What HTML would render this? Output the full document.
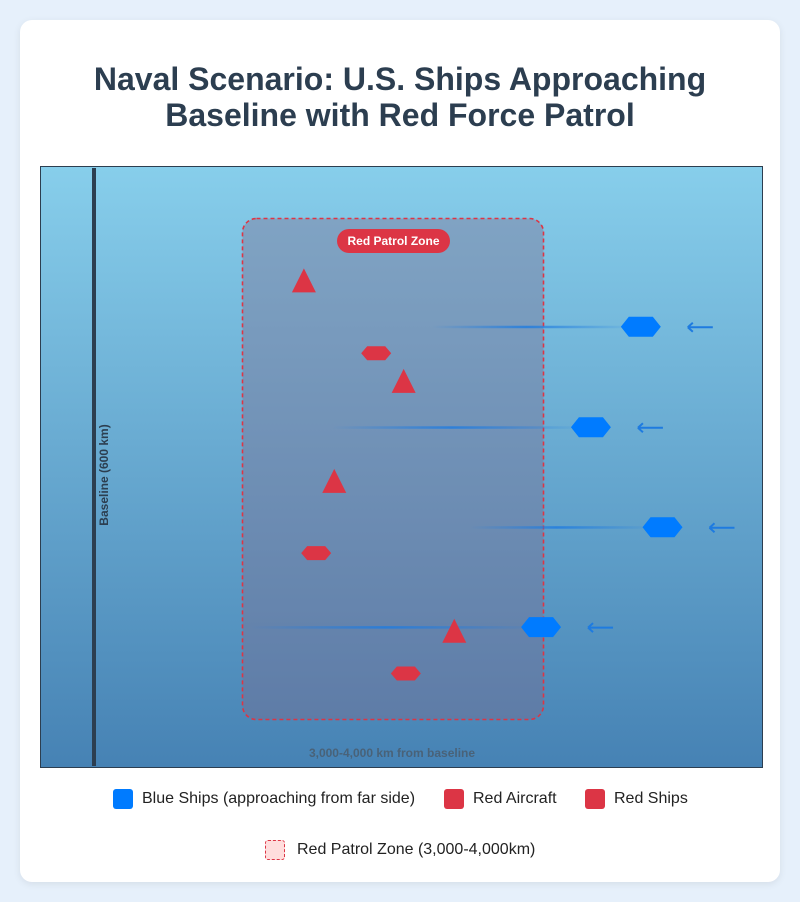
<!DOCTYPE html>
<html><head><meta charset="utf-8">
<style>
body{margin:0;background:#e6f0fb;width:800px;height:902px;font-family:"Liberation Sans",Arial,sans-serif;}
.card{position:absolute;left:20px;top:20px;width:760px;height:862px;background:#fff;border-radius:12px;box-shadow:0 2px 8px rgba(0,0,0,.08);}
h1{position:absolute;left:0;width:800px;margin:0;top:61px;text-align:center;font-size:32px;line-height:36px;font-weight:bold;color:#2c3e50;}
svg{position:absolute;left:0;top:0;}
.leg{position:absolute;font-size:16px;color:#222;display:flex;align-items:center;}
.sw{width:20px;height:20px;border-radius:3px;margin-right:9px;}
</style></head><body>
<div class="card"></div>
<h1>Naval Scenario: U.S. Ships Approaching<br>Baseline with Red Force Patrol</h1>
<svg id="chart" width="800" height="902">
<defs>
<linearGradient id="sea" x1="0" y1="0" x2="0" y2="1"><stop offset="0" stop-color="#87ceeb"/><stop offset="1" stop-color="#4682b4"/></linearGradient>
<linearGradient id="trail" x1="0" y1="0" x2="1" y2="0"><stop offset="0" stop-color="#1e7be0" stop-opacity="0"/><stop offset="0.5" stop-color="#1e7be0" stop-opacity="0.8"/><stop offset="1" stop-color="#1e7be0" stop-opacity="0.1"/></linearGradient>
</defs>
<rect x="40.5" y="166.5" width="722" height="601" fill="url(#sea)" stroke="#2c3e50" stroke-width="1"/>
<rect x="92" y="168" width="4" height="598" fill="#2c3e50"/>
<text transform="translate(108,475) rotate(-90)" text-anchor="middle" font-size="12" font-weight="bold" fill="#2c3e50">Baseline (600 km)</text>
<rect x="242.5" y="218.5" width="301" height="501" rx="14" fill="rgba(125,105,140,0.38)" stroke="#dc3545" stroke-width="1.6" stroke-dasharray="4,3"/>
<rect x="337" y="229" width="113" height="24" rx="12" fill="#dc3545"/>
<text x="393.5" y="245" text-anchor="middle" font-size="12" font-weight="bold" fill="#fff">Red Patrol Zone</text>
<text x="392" y="757" text-anchor="middle" font-size="12" font-weight="bold" fill="#4a5a6a" opacity="0.8">3,000-4,000 km from baseline</text>
<g id="marks"></g>
</svg>
<div class="leg" style="left:113px;top:789px"><div class="sw" style="background:#007bff"></div>Blue Ships (approaching from far side)</div>
<div class="leg" style="left:444px;top:789px"><div class="sw" style="background:#dc3545"></div>Red Aircraft</div>
<div class="leg" style="left:585px;top:789px"><div class="sw" style="background:#dc3545"></div>Red Ships</div>
<div class="leg" style="left:265px;top:840px"><div class="sw" style="background:#fdd;border:1.5px dashed #dc3545;box-sizing:border-box;margin-right:12px"></div>Red Patrol Zone (3,000-4,000km)</div>
<script>
const blueShipX=[83.1,76.2,86.1,69.3];
const blueShipY=[26.7,43.4,60.0,76.6];
const blueTrailStart=[54.2,40.4,59.5,29.0];
const aircraftX=[36.5,50.3,40.7,57.3];
const aircraftY=[19.0,35.7,52.3,77.2];
const redShipX=[46.5,38.2,50.6];
const redShipY=[31.1,64.3,84.3];
const xs=v=>40+v*7.23;
const ys=v=>166+v*6.02;
const g=document.getElementById('marks');
const NS='http://www.w3.org/2000/svg';
function hex(cx,cy,w,h){const q=w*0.2;return `${cx-w/2},${cy} ${cx-w/2+q},${cy-h/2} ${cx+w/2-q},${cy-h/2} ${cx+w/2},${cy} ${cx+w/2-q},${cy+h/2} ${cx-w/2+q},${cy+h/2}`;}
blueShipX.forEach((v,i)=>{
  const x=xs(v),y=ys(blueShipY[i]),x0=xs(blueTrailStart[i]);
  const t=document.createElementNS(NS,'rect');
  t.setAttribute('x',x0);t.setAttribute('y',y-1);t.setAttribute('width',x-20-x0);t.setAttribute('height',2.5);t.setAttribute('fill','url(#trail)');
  
  
  g.appendChild(t);
  const p=document.createElementNS(NS,'polygon');
  p.setAttribute('points',hex(x,y,40,20));p.setAttribute('fill','#007bff');
  
  
  g.appendChild(p);
  const a=document.createElementNS(NS,'path');
  a.setAttribute('d',`M${x+47},${y+0.5} H${x+72} M${x+47},${y+0.5} l5,-4.5 M${x+47},${y+0.5} l5,4.5`);
  a.setAttribute('stroke','#1e7be0');a.setAttribute('stroke-width','2');a.setAttribute('fill','none');
  
  
  g.appendChild(a);
});
aircraftX.forEach((v,i)=>{
  const x=xs(v),y=ys(aircraftY[i]);
  const p=document.createElementNS(NS,'polygon');
  p.setAttribute('points',`${x},${y-12} ${x+12},${y+12} ${x-12},${y+12}`);p.setAttribute('fill','#dc3545');
  
  
  g.appendChild(p);
});
redShipX.forEach((v,i)=>{
  const x=xs(v),y=ys(redShipY[i]);
  const p=document.createElementNS(NS,'polygon');
  p.setAttribute('points',hex(x,y,30,14));p.setAttribute('fill','#dc3545');
  
  
  g.appendChild(p);
});
</script>
</body></html>
